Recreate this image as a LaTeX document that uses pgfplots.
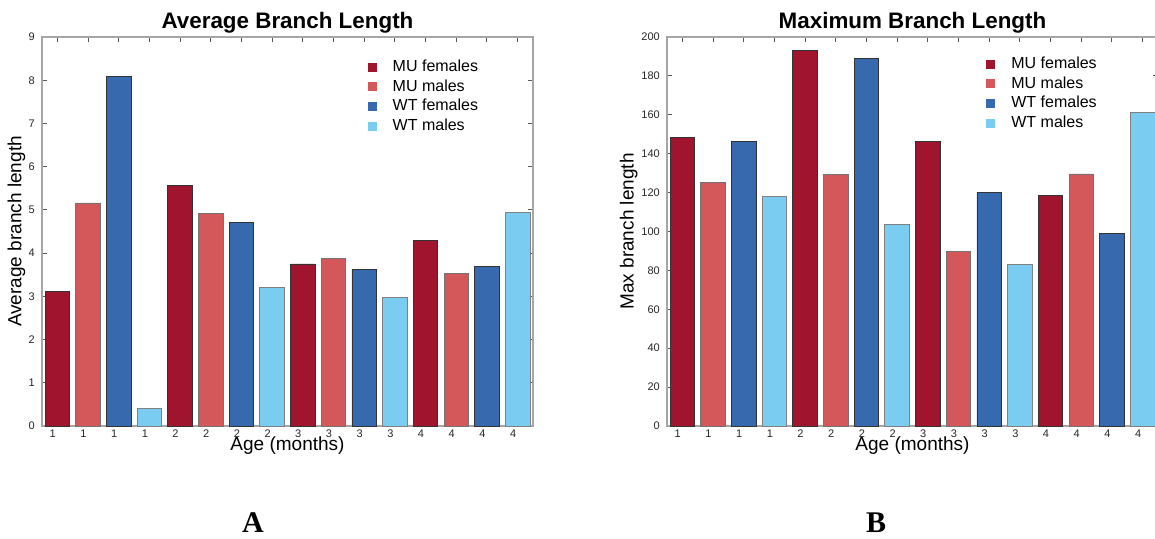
\documentclass[border=0pt]{standalone}
\usepackage{pgfplots}
\pgfplotsset{compat=1.18}
\usepackage{fontspec}
\setmainfont{Liberation Sans}
\newfontfamily\seriffont{Liberation Serif}

\definecolor{muf}{RGB}{160,20,45}
\definecolor{mum}{RGB}{212,88,90}
\definecolor{wtf}{RGB}{55,105,175}
\definecolor{wtm}{RGB}{122,205,240}

\pgfplotsset{
  branch/.style={
    width=245.5pt, height=194.5pt, scale only axis,
    anchor=south west,
    ybar, bar width=0.8, xmin=0.5, xmax=16.5, ymin=0,
    xtick={1,...,16},
    xticklabels={1,1,1,1,2,2,2,2,3,3,3,3,4,4,4,4},
    tick align=inside, major tick length=2.5pt,
    axis line style={black!35, line width=0.8pt},
    tick style={black!65, line width=0.5pt},
    ticklabel style={font=\fontsize{5.5}{6.5}\selectfont, text=black!85},
    xticklabel style={anchor=base, inner sep=0pt, yshift=-5.5pt, xshift=-2.3pt},
    yticklabel style={anchor=east, inner sep=0pt, xshift=-3.4pt},
    /pgf/number format/assume math mode=true,
    label style={font=\fontsize{9.5}{11}\selectfont},
    xlabel style={at={(axis description cs:0.5,0)}, anchor=base, yshift=-12pt},
    title style={font=\bfseries\fontsize{11.2}{13}\selectfont,
      at={(axis description cs:0.5,1)}, anchor=base, yshift=-1.6pt},
    legend style={draw=none, fill=none, anchor=north west,
      font=\fontsize{8}{9.6}\selectfont, row sep=0pt,
      nodes={inner sep=1.3pt, text height=5.75pt, text depth=1.5pt}},
    legend cell align=left,
  },
  sq/.style={bar shift=0pt, draw=#1,
    legend image code/.code={%
      \fill[##1, draw=none] (0pt,-2.25pt) rectangle (4.5pt,2.25pt);
      \path[draw=none, fill=none] (0pt,0pt) rectangle (11.3pt,0pt);}},
}

\begin{document}
\begin{tikzpicture}
\path[use as bounding box] (0,0) rectangle (577.5pt,269pt);

\begin{axis}[branch, at={(21pt,56pt)},
  ymax=9, ytick={0,1,...,9},
  title={Average Branch Length},
  xlabel={Age (months)}, ylabel={Average branch length},
  ylabel style={at={(axis description cs:-0.042,0.5)}, anchor=base},
  legend style={at={(0.650,0.959)}},
]
\addplot+[sq=black!80, fill=muf] coordinates {(1,3.11)(5,5.56)(9,3.75)(13,4.30)};
\addplot+[sq=black!55, fill=mum] coordinates {(2,5.16)(6,4.91)(10,3.87)(14,3.52)};
\addplot+[sq=black!80, fill=wtf] coordinates {(3,8.08)(7,4.70)(11,3.63)(15,3.69)};
\addplot+[sq=black!50, fill=wtm] coordinates {(4,0.415)(8,3.21)(12,2.98)(16,4.95)};
\legend{MU females, MU males, WT females, WT males}
\end{axis}

\begin{axis}[branch, at={(333.5pt,56pt)},
  ymax=200, ytick={0,20,...,200},
  title={Maximum Branch Length},
  xlabel={Age (months)}, ylabel={Max branch length},
  ylabel style={at={(axis description cs:-0.068,0.5)}, anchor=base},
  legend style={at={(0.637,0.967)}},
]
\addplot+[sq=black!80, fill=muf] coordinates {(1,148.5)(5,193.3)(9,146.1)(13,118.5)};
\addplot+[sq=black!55, fill=mum] coordinates {(2,125.2)(6,129.4)(10,89.9)(14,129.6)};
\addplot+[sq=black!80, fill=wtf] coordinates {(3,146.4)(7,189.0)(11,120.2)(15,99.0)};
\addplot+[sq=black!50, fill=wtm] coordinates {(4,117.9)(8,103.4)(12,83.2)(16,161.2)};
\legend{MU females, MU males, WT females, WT males}
\end{axis}

\node[font=\seriffont\bfseries\fontsize{15}{17}\selectfont, anchor=base]
  at (126.5pt,2.7pt) {A};
\node[font=\seriffont\bfseries\fontsize{15}{17}\selectfont, anchor=base]
  at (438pt,2.7pt) {B};
\end{tikzpicture}
\end{document}
